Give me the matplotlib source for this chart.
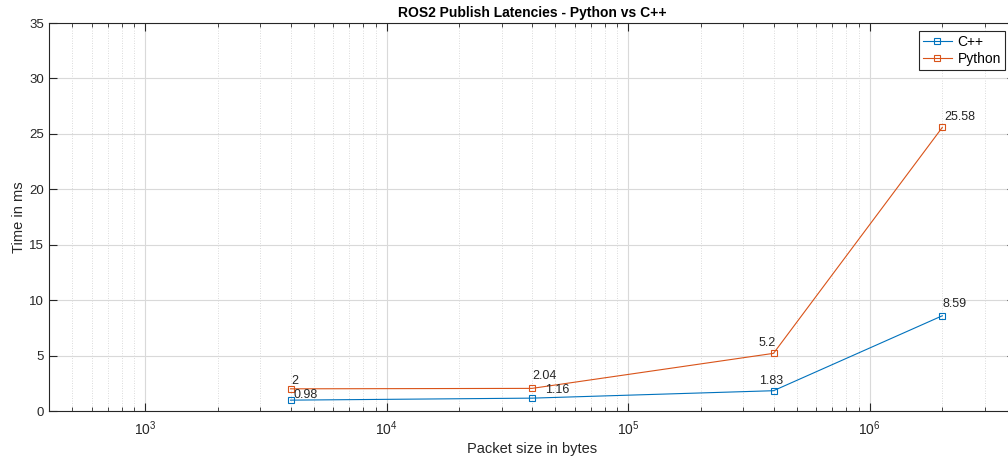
import matplotlib
matplotlib.use("Agg")
import matplotlib.pyplot as plt
from matplotlib.ticker import LogLocator, NullFormatter, MultipleLocator

plt.rcParams['font.family'] = ['Liberation Sans', 'DejaVu Sans']
plt.rcParams['mathtext.fontset'] = 'custom'
plt.rcParams['mathtext.rm'] = 'Liberation Sans'
plt.rcParams['mathtext.it'] = 'Liberation Sans:italic'

# data
packet_sizes = [4000, 40000, 400000, 2000000]
cpp_ms = [0.98, 1.16, 1.83, 8.59]
python_ms = [2, 2.04, 5.2, 25.58]
cpp_labels = ["0.98", "1.16", "1.83", "8.59"]
python_labels = ["2", "2.04", "5.2", "25.58"]

# label offsets in pixels (dx, dy, ha)
cpp_offsets = [(3, 5, 'left'), (13, 8, 'left'), (-2, 10, 'center'), (0, 12, 'left')]
python_offsets = [(1, 8, 'left'), (0, 12, 'left'), (-6, 10, 'center'), (2, 10, 'left')]

blue = "#0072BD"
orange = "#D95319"
ink = "#262626"

fig = plt.figure(figsize=(10.08, 4.59), dpi=100)
ax = fig.add_axes([49/1008, 1 - 411/459, 966/1008, 388/459])

ax.plot(packet_sizes, cpp_ms, color=blue, lw=0.8, marker='s', ms=4.5,
        mfc='none', mec=blue, mew=0.8, label="C++")
ax.plot(packet_sizes, python_ms, color=orange, lw=0.8, marker='s', ms=4.5,
        mfc='none', mec=orange, mew=0.8, label="Python")

for x, y, t, (dx, dy, ha) in zip(packet_sizes, cpp_ms, cpp_labels, cpp_offsets):
    ax.annotate(t, (x, y), xytext=(dx, dy), textcoords='offset pixels',
                ha=ha, va='center', fontsize=9, color=ink)
for x, y, t, (dx, dy, ha) in zip(packet_sizes, python_ms, python_labels, python_offsets):
    ax.annotate(t, (x, y), xytext=(dx, dy), textcoords='offset pixels',
                ha=ha, va='center', fontsize=9, color=ink)

ax.set_xscale('log')
ax.set_xlim(400, 4e6)
ax.set_ylim(0, 35)
ax.yaxis.set_major_locator(MultipleLocator(5))
ax.xaxis.set_major_locator(LogLocator(base=10))
ax.xaxis.set_minor_locator(LogLocator(base=10, subs=range(2, 10)))
ax.xaxis.set_minor_formatter(NullFormatter())

ax.grid(True, which='major', color='#d9d9d9', lw=0.8, ls='-')
ax.grid(True, which='minor', axis='x', color='#cfcfcf', lw=0.6, ls=(0, (1, 2)))
ax.set_axisbelow(True)

ax.tick_params(which='both', direction='in', top=True, right=True, colors=ink,
               labelsize=9.5)
ax.tick_params(which='major', length=6, width=0.8)
ax.tick_params(which='minor', length=3, width=0.6)
ax.tick_params(axis='x', which='major', pad=6, labelsize=10)
for s in ax.spines.values():
    s.set_color(ink)
    s.set_linewidth(0.8)

ax.set_title("ROS2 Publish Latencies - Python vs C++", fontsize=10,
             fontweight='bold', color='black', pad=4)
ax.set_xlabel("Packet size in bytes", fontsize=10.5, color=ink, labelpad=3)
ax.set_ylabel("Time in ms", fontsize=10.5, color=ink, labelpad=2)

leg = ax.legend(loc='upper right', bbox_to_anchor=(0.9896, 0.979), fontsize=10,
                fancybox=False, framealpha=1, edgecolor=ink, borderpad=0.3,
                handlelength=2.1, handletextpad=0.4, labelspacing=0.2,
                borderaxespad=0)
leg.get_frame().set_linewidth(0.8)

fig.savefig("out.png", dpi=100)
